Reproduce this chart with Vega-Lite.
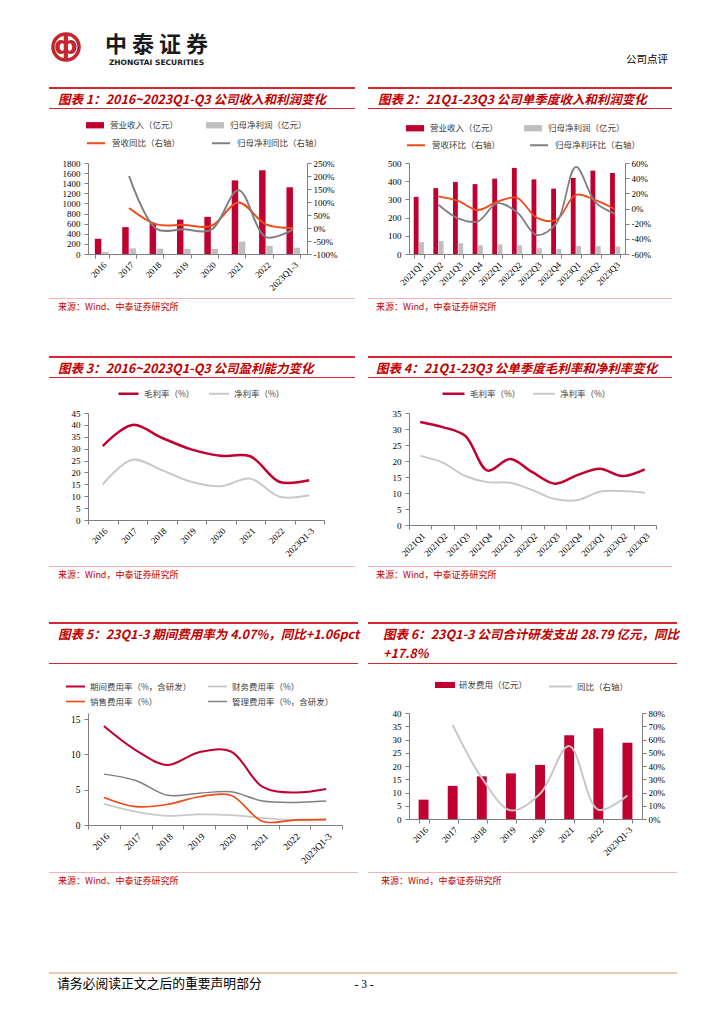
{
"$schema":"https://vega.github.io/schema/vega-lite/v6.json",
"background":"#ffffff","padding":0,"spacing":0,"columns":7,"bounds":"flush",
"resolve":{"scale":{"x":"independent","y":"independent","xOffset":"independent","color":"independent","stroke":"independent","strokeWidth":"independent"},"legend":{"color":"independent","stroke":"independent"},"axis":{"x":"independent","y":"independent"}},
"config":{"view":{"stroke":null},"font":"Noto Sans CJK SC",
"axis":{"labelFont":"Liberation Serif","labelFontSize":9,"labelColor":"#000000","domainColor":"#7F7F7F","tickColor":"#7F7F7F","tickSize":4,"grid":false},
"legend":{"labelFont":"Noto Sans CJK SC","labelFontSize":8.5,"labelColor":"#404040","padding":0},
"title":{"font":"Noto Sans CJK SC"}},
"datasets":{
"e":[],
"c1bar":[{"cat":"2016","s":"营业收入（亿元）","v":301},{"cat":"2016","s":"归母净利润（亿元）","v":37},{"cat":"2017","s":"营业收入（亿元）","v":531},{"cat":"2017","s":"归母净利润（亿元）","v":111},{"cat":"2018","s":"营业收入（亿元）","v":606},{"cat":"2018","s":"归母净利润（亿元）","v":106},{"cat":"2019","s":"营业收入（亿元）","v":681},{"cat":"2019","s":"归母净利润（亿元）","v":101},{"cat":"2020","s":"营业收入（亿元）","v":734},{"cat":"2020","s":"归母净利润（亿元）","v":100},{"cat":"2021","s":"营业收入（亿元）","v":1456},{"cat":"2021","s":"归母净利润（亿元）","v":246},{"cat":"2022","s":"营业收入（亿元）","v":1656},{"cat":"2022","s":"归母净利润（亿元）","v":162},{"cat":"2023Q1-3","s":"营业收入（亿元）","v":1320},{"cat":"2023Q1-3","s":"归母净利润（亿元）","v":125}],
"c1line":[{"cat":"2017","s":"营收同比（右轴）","v":77},{"cat":"2018","s":"营收同比（右轴）","v":14},{"cat":"2019","s":"营收同比（右轴）","v":12},{"cat":"2020","s":"营收同比（右轴）","v":8},{"cat":"2021","s":"营收同比（右轴）","v":98},{"cat":"2022","s":"营收同比（右轴）","v":14},{"cat":"2023Q1-3","s":"营收同比（右轴）","v":0},{"cat":"2017","s":"归母净利同比（右轴）","v":200},{"cat":"2018","s":"归母净利同比（右轴）","v":-3},{"cat":"2019","s":"归母净利同比（右轴）","v":-5},{"cat":"2020","s":"归母净利同比（右轴）","v":-7},{"cat":"2021","s":"归母净利同比（右轴）","v":145},{"cat":"2022","s":"归母净利同比（右轴）","v":-35},{"cat":"2023Q1-3","s":"归母净利同比（右轴）","v":-5}],
"c2bar":[{"cat":"2021Q1","s":"营业收入（亿元）","v":314},{"cat":"2021Q1","s":"归母净利润（亿元）","v":65},{"cat":"2021Q2","s":"营业收入（亿元）","v":362},{"cat":"2021Q2","s":"归母净利润（亿元）","v":72},{"cat":"2021Q3","s":"营业收入（亿元）","v":396},{"cat":"2021Q3","s":"归母净利润（亿元）","v":60},{"cat":"2021Q4","s":"营业收入（亿元）","v":384},{"cat":"2021Q4","s":"归母净利润（亿元）","v":48},{"cat":"2022Q1","s":"营业收入（亿元）","v":414},{"cat":"2022Q1","s":"归母净利润（亿元）","v":53},{"cat":"2022Q2","s":"营业收入（亿元）","v":473},{"cat":"2022Q2","s":"归母净利润（亿元）","v":48},{"cat":"2022Q3","s":"营业收入（亿元）","v":410},{"cat":"2022Q3","s":"归母净利润（亿元）","v":32},{"cat":"2022Q4","s":"营业收入（亿元）","v":359},{"cat":"2022Q4","s":"归母净利润（亿元）","v":28},{"cat":"2023Q1","s":"营业收入（亿元）","v":418},{"cat":"2023Q1","s":"归母净利润（亿元）","v":44},{"cat":"2023Q2","s":"营业收入（亿元）","v":458},{"cat":"2023Q2","s":"归母净利润（亿元）","v":43},{"cat":"2023Q3","s":"营业收入（亿元）","v":445},{"cat":"2023Q3","s":"归母净利润（亿元）","v":41}],
"c2line":[{"cat":"2021Q2","s":"营收环比（右轴）","v":16},{"cat":"2021Q3","s":"营收环比（右轴）","v":10},{"cat":"2021Q4","s":"营收环比（右轴）","v":-2},{"cat":"2022Q1","s":"营收环比（右轴）","v":9},{"cat":"2022Q2","s":"营收环比（右轴）","v":14},{"cat":"2022Q3","s":"营收环比（右轴）","v":-12},{"cat":"2022Q4","s":"营收环比（右轴）","v":-15},{"cat":"2023Q1","s":"营收环比（右轴）","v":18},{"cat":"2023Q2","s":"营收环比（右轴）","v":11},{"cat":"2023Q3","s":"营收环比（右轴）","v":-1},{"cat":"2021Q2","s":"归母净利环比（右轴）","v":5},{"cat":"2021Q3","s":"归母净利环比（右轴）","v":-13},{"cat":"2021Q4","s":"归母净利环比（右轴）","v":-17},{"cat":"2022Q1","s":"归母净利环比（右轴）","v":7},{"cat":"2022Q2","s":"归母净利环比（右轴）","v":-5},{"cat":"2022Q3","s":"归母净利环比（右轴）","v":-35},{"cat":"2022Q4","s":"归母净利环比（右轴）","v":-20},{"cat":"2023Q1","s":"归母净利环比（右轴）","v":55},{"cat":"2023Q2","s":"归母净利环比（右轴）","v":8},{"cat":"2023Q3","s":"归母净利环比（右轴）","v":-7}],
"c3":[{"cat":"2016","s":"毛利率（%）","v":31.1},{"cat":"2017","s":"毛利率（%）","v":40.0},{"cat":"2018","s":"毛利率（%）","v":34.6},{"cat":"2019","s":"毛利率（%）","v":29.7},{"cat":"2020","s":"毛利率（%）","v":27.0},{"cat":"2021","s":"毛利率（%）","v":26.8},{"cat":"2022","s":"毛利率（%）","v":16.0},{"cat":"2023Q1-3","s":"毛利率（%）","v":16.7},{"cat":"2016","s":"净利率（%）","v":15.0},{"cat":"2017","s":"净利率（%）","v":25.3},{"cat":"2018","s":"净利率（%）","v":21.0},{"cat":"2019","s":"净利率（%）","v":16.1},{"cat":"2020","s":"净利率（%）","v":14.2},{"cat":"2021","s":"净利率（%）","v":17.4},{"cat":"2022","s":"净利率（%）","v":9.8},{"cat":"2023Q1-3","s":"净利率（%）","v":10.4}],
"c4":[{"cat":"2021Q1","s":"毛利率（%）","v":32.2},{"cat":"2021Q2","s":"毛利率（%）","v":30.6},{"cat":"2021Q3","s":"毛利率（%）","v":27.9},{"cat":"2021Q4","s":"毛利率（%）","v":17.0},{"cat":"2022Q1","s":"毛利率（%）","v":20.6},{"cat":"2022Q2","s":"毛利率（%）","v":16.5},{"cat":"2022Q3","s":"毛利率（%）","v":12.9},{"cat":"2022Q4","s":"毛利率（%）","v":15.6},{"cat":"2023Q1","s":"毛利率（%）","v":17.6},{"cat":"2023Q2","s":"毛利率（%）","v":15.3},{"cat":"2023Q3","s":"毛利率（%）","v":17.4},{"cat":"2021Q1","s":"净利率（%）","v":21.6},{"cat":"2021Q2","s":"净利率（%）","v":19.5},{"cat":"2021Q3","s":"净利率（%）","v":15.3},{"cat":"2021Q4","s":"净利率（%）","v":13.4},{"cat":"2022Q1","s":"净利率（%）","v":13.2},{"cat":"2022Q2","s":"净利率（%）","v":10.9},{"cat":"2022Q3","s":"净利率（%）","v":8.1},{"cat":"2022Q4","s":"净利率（%）","v":7.8},{"cat":"2023Q1","s":"净利率（%）","v":10.4},{"cat":"2023Q2","s":"净利率（%）","v":10.6},{"cat":"2023Q3","s":"净利率（%）","v":10.1}],
"c5":[{"cat":"2016","s":"期间费用率（%，含研发）","v":14.0},{"cat":"2017","s":"期间费用率（%，含研发）","v":10.6},{"cat":"2018","s":"期间费用率（%，含研发）","v":8.5},{"cat":"2019","s":"期间费用率（%，含研发）","v":10.3},{"cat":"2020","s":"期间费用率（%，含研发）","v":10.4},{"cat":"2021","s":"期间费用率（%，含研发）","v":5.4},{"cat":"2022","s":"期间费用率（%，含研发）","v":4.6},{"cat":"2023Q1-3","s":"期间费用率（%，含研发）","v":5.1},{"cat":"2016","s":"财务费用率（%）","v":3.0},{"cat":"2017","s":"财务费用率（%）","v":1.9},{"cat":"2018","s":"财务费用率（%）","v":1.3},{"cat":"2019","s":"财务费用率（%）","v":1.5},{"cat":"2020","s":"财务费用率（%）","v":1.4},{"cat":"2021","s":"财务费用率（%）","v":1.0},{"cat":"2022","s":"财务费用率（%）","v":0.7},{"cat":"2023Q1-3","s":"财务费用率（%）","v":0.7},{"cat":"2016","s":"销售费用率（%）","v":3.9},{"cat":"2017","s":"销售费用率（%）","v":2.6},{"cat":"2018","s":"销售费用率（%）","v":2.9},{"cat":"2019","s":"销售费用率（%）","v":4.0},{"cat":"2020","s":"销售费用率（%）","v":4.2},{"cat":"2021","s":"销售费用率（%）","v":0.5},{"cat":"2022","s":"销售费用率（%）","v":0.7},{"cat":"2023Q1-3","s":"销售费用率（%）","v":0.8},{"cat":"2016","s":"管理费用率（%，含研发）","v":7.2},{"cat":"2017","s":"管理费用率（%，含研发）","v":6.3},{"cat":"2018","s":"管理费用率（%，含研发）","v":4.2},{"cat":"2019","s":"管理费用率（%，含研发）","v":4.5},{"cat":"2020","s":"管理费用率（%，含研发）","v":4.7},{"cat":"2021","s":"管理费用率（%，含研发）","v":3.4},{"cat":"2022","s":"管理费用率（%，含研发）","v":3.2},{"cat":"2023Q1-3","s":"管理费用率（%，含研发）","v":3.4}],
"c6bar":[{"cat":"2016","s":"研发费用（亿元）","v":7.3},{"cat":"2017","s":"研发费用（亿元）","v":12.5},{"cat":"2018","s":"研发费用（亿元）","v":16.1},{"cat":"2019","s":"研发费用（亿元）","v":17.2},{"cat":"2020","s":"研发费用（亿元）","v":20.4},{"cat":"2021","s":"研发费用（亿元）","v":31.6},{"cat":"2022","s":"研发费用（亿元）","v":34.2},{"cat":"2023Q1-3","s":"研发费用（亿元）","v":28.79}],
"c6line":[{"cat":"2017","s":"同比（右轴）","v":71},{"cat":"2018","s":"同比（右轴）","v":31},{"cat":"2019","s":"同比（右轴）","v":6.5},{"cat":"2020","s":"同比（右轴）","v":19},{"cat":"2021","s":"同比（右轴）","v":55},{"cat":"2022","s":"同比（右轴）","v":7},{"cat":"2023Q1-3","s":"同比（右轴）","v":17.8}]
},
"concat":[
{"width":49,"height":30,"data":{"name":"e"},"mark":"point"},
{"width":1,"height":1,"data":{"name":"e"},"mark":"point"},
{"width":137,"height":30,"data":{"name":"e"},"mark":"point","title":{"text":"中 泰 证 券","subtitle":"ZHONGTAI SECURITIES","orient":"bottom","anchor":"middle","frame":"group","offset":5,"fontSize":22,"fontWeight":"bold","color":"#1A1A1A","subtitleFont":"DejaVu Sans","subtitleFontSize":7.5,"subtitleFontWeight":"bold","subtitleColor":"#1A1A1A","subtitlePadding":2}},
{"width":1,"height":1,"data":{"name":"e"},"mark":"point"},
{"width":1,"height":1,"data":{"name":"e"},"mark":"point"},
{"width":247,"height":30,"data":{"name":"e"},"mark":"point","title":{"text":"公司点评","orient":"bottom","anchor":"end","frame":"group","offset":25,"dx":12,"fontSize":10.5,"fontWeight":"normal","color":"#000000"}},
{"width":1,"height":1,"data":{"name":"e"},"mark":"point"},

{"width":1,"height":1,"data":{"name":"e"},"mark":"point"},
{"width":34,"height":34,"data":{"values":[{"k":"logo"}]},"layer":[
 {"mark":{"type":"point","shape":"circle","size":680,"filled":false,"stroke":"#C1272D","strokeWidth":3.5,"opacity":1}},
 {"mark":{"type":"text","text":"ф","font":"DejaVu Sans","fontSize":24,"fontWeight":"bold","color":"#C1272D","align":"center","baseline":"middle"}}]},
{"width":1,"height":1,"data":{"name":"e"},"mark":"point"},
{"width":1,"height":1,"data":{"name":"e"},"mark":"point"},
{"width":1,"height":1,"data":{"name":"e"},"mark":"point"},
{"width":1,"height":1,"data":{"name":"e"},"mark":"point"},
{"width":1,"height":1,"data":{"name":"e"},"mark":"point"},

{"width":1,"height":23,"data":{"name":"e"},"mark":"point"},
{"width":1,"height":1,"data":{"name":"e"},"mark":"point"},
{"width":1,"height":1,"data":{"name":"e"},"mark":"point"},
{"width":1,"height":1,"data":{"name":"e"},"mark":"point"},
{"width":1,"height":1,"data":{"name":"e"},"mark":"point"},
{"width":1,"height":1,"data":{"name":"e"},"mark":"point"},
{"width":1,"height":1,"data":{"name":"e"},"mark":"point"},

{"width":1,"height":2,"data":{"name":"e"},"mark":"point"},
{"width":39,"height":2,"data":{"name":"e"},"mark":"point","view":{"fill":"#D7262E","stroke":null},"title":{"text":"图表 1：2016~2023Q1-Q3 公司收入和利润变化","orient":"bottom","anchor":"start","frame":"group","offset":5,"dx":9,"fontSize":12.5,"fontWeight":"bold","fontStyle":"italic","color":"#C00000"}},
{"width":254,"height":2,"data":{"name":"e"},"mark":"point","view":{"fill":"#D7262E","stroke":null}},
{"width":13,"height":2,"data":{"name":"e"},"mark":"point","view":{"fill":"#D7262E","stroke":null}},
{"width":41,"height":2,"data":{"name":"e"},"mark":"point","view":{"fill":"#D7262E","stroke":null},"title":{"text":"图表 2：21Q1-23Q3 公司单季度收入和利润变化","orient":"bottom","anchor":"start","frame":"group","offset":5,"dx":10,"fontSize":12.5,"fontWeight":"bold","fontStyle":"italic","color":"#C00000"}},
{"width":247,"height":2,"data":{"name":"e"},"mark":"point","view":{"fill":"#D7262E","stroke":null}},
{"width":16,"height":2,"data":{"name":"e"},"mark":"point","view":{"fill":"#D7262E","stroke":null}},

{"width":1,"height":19,"data":{"name":"e"},"mark":"point"},
{"width":1,"height":1,"data":{"name":"e"},"mark":"point"},
{"width":1,"height":1,"data":{"name":"e"},"mark":"point"},
{"width":1,"height":1,"data":{"name":"e"},"mark":"point"},
{"width":1,"height":1,"data":{"name":"e"},"mark":"point"},
{"width":1,"height":1,"data":{"name":"e"},"mark":"point"},
{"width":1,"height":1,"data":{"name":"e"},"mark":"point"},

{"width":1,"height":1,"data":{"name":"e"},"mark":"point"},
{"width":39,"height":1,"data":{"name":"e"},"mark":"point","view":{"fill":"#D7262E","stroke":null}},
{"width":254,"height":1,"data":{"name":"e"},"mark":"point","view":{"fill":"#D7262E","stroke":null}},
{"width":13,"height":1,"data":{"name":"e"},"mark":"point","view":{"fill":"#D7262E","stroke":null}},
{"width":41,"height":1,"data":{"name":"e"},"mark":"point","view":{"fill":"#D7262E","stroke":null}},
{"width":247,"height":1,"data":{"name":"e"},"mark":"point","view":{"fill":"#D7262E","stroke":null}},
{"width":16,"height":1,"data":{"name":"e"},"mark":"point","view":{"fill":"#D7262E","stroke":null}},

{"width":1,"height":54,"data":{"name":"e"},"mark":"point"},
{"width":1,"height":1,"data":{"name":"e"},"mark":"point"},
{"width":1,"height":1,"data":{"name":"e"},"mark":"point"},
{"width":1,"height":1,"data":{"name":"e"},"mark":"point"},
{"width":1,"height":1,"data":{"name":"e"},"mark":"point"},
{"width":1,"height":1,"data":{"name":"e"},"mark":"point"},
{"width":1,"height":1,"data":{"name":"e"},"mark":"point"},

{"width":1,"height":1,"data":{"name":"e"},"mark":"point"},
{"width":1,"height":1,"data":{"name":"e"},"mark":"point"},
{"width":219,"height":91,
 "encoding":{"x":{"field":"cat","type":"nominal","scale":{"type":"band","paddingInner":0.5,"paddingOuter":0.25},"axis":{"title":null,"labelAngle":-45,"labelAlign":"right","labelBaseline":"top","tickBand":"extent","labelPadding":2}}},
 "layer":[
  {"data":{"name":"c1bar"},"mark":"bar","encoding":{
   "xOffset":{"field":"s","type":"nominal","scale":{"domain":["营业收入（亿元）","归母净利润（亿元）"],"paddingInner":0.1}},
   "y":{"field":"v","type":"quantitative","scale":{"domain":[0,1800],"nice":false},"axis":{"title":null,"orient":"left","format":"d","values":[0,200,400,600,800,1000,1200,1400,1600,1800],"labelPadding":4}},
   "color":{"field":"s","type":"nominal","scale":{"domain":["营业收入（亿元）","归母净利润（亿元）"],"range":["#C00030","#BFBFBF"]},"legend":{"title":null,"orient":"none","legendX":-2,"legendY":-47,"direction":"horizontal","symbolType":"M-1,-0.35H1V0.35H-1Z","symbolSize":324,"symbolStrokeWidth":0,"labelOffset":6,"columnPadding":27}}}},
  {"data":{"name":"c1line"},"mark":{"type":"line","interpolate":"catmull-rom","strokeWidth":2},"encoding":{
   "y":{"field":"v","type":"quantitative","scale":{"domain":[-100,250],"nice":false},"axis":{"title":null,"orient":"right","values":[-100,-50,0,50,100,150,200,250],"labelExpr":"datum.value + '%'","labelPadding":2}},
   "stroke":{"field":"s","type":"nominal","scale":{"domain":["营收同比（右轴）","归母净利同比（右轴）"],"range":["#EE4B1A","#808080"]},"legend":{"title":null,"orient":"none","legendX":-2,"legendY":-30,"direction":"horizontal","symbolType":"stroke","symbolSize":324,"symbolStrokeWidth":2,"labelOffset":6,"columnPadding":27}}}}
 ],
 "resolve":{"scale":{"y":"independent"}}},
{"width":1,"height":1,"data":{"name":"e"},"mark":"point"},
{"width":1,"height":1,"data":{"name":"e"},"mark":"point"},
{"width":216,"height":91,
 "encoding":{"x":{"field":"cat","type":"nominal","scale":{"type":"band","paddingInner":0.48,"paddingOuter":0.24},"axis":{"title":null,"labelAngle":-45,"labelAlign":"right","labelBaseline":"top","tickBand":"extent","labelPadding":2}}},
 "layer":[
  {"data":{"name":"c2bar"},"mark":"bar","encoding":{
   "xOffset":{"field":"s","type":"nominal","scale":{"domain":["营业收入（亿元）","归母净利润（亿元）"],"paddingInner":0.1}},
   "y":{"field":"v","type":"quantitative","scale":{"domain":[0,500],"nice":false},"axis":{"title":null,"orient":"left","values":[0,100,200,300,400,500],"labelPadding":4}},
   "color":{"field":"s","type":"nominal","scale":{"domain":["营业收入（亿元）","归母净利润（亿元）"],"range":["#C00030","#BFBFBF"]},"legend":{"title":null,"orient":"none","legendX":-3,"legendY":-44,"direction":"horizontal","symbolType":"M-1,-0.35H1V0.35H-1Z","symbolSize":324,"symbolStrokeWidth":0,"labelOffset":6,"columnPadding":25}}}},
  {"data":{"name":"c2line"},"mark":{"type":"line","interpolate":"catmull-rom","strokeWidth":1.8},"encoding":{
   "y":{"field":"v","type":"quantitative","scale":{"domain":[-60,60],"nice":false},"axis":{"title":null,"orient":"right","values":[-60,-40,-20,0,20,40,60],"labelExpr":"datum.value + '%'","labelPadding":2}},
   "stroke":{"field":"s","type":"nominal","scale":{"domain":["营收环比（右轴）","归母净利环比（右轴）"],"range":["#EE4B1A","#808080"]},"legend":{"title":null,"orient":"none","legendX":-3,"legendY":-28,"direction":"horizontal","symbolType":"stroke","symbolSize":324,"symbolStrokeWidth":2,"labelOffset":6,"columnPadding":25}}}}
 ],
 "resolve":{"scale":{"y":"independent"}}},
{"width":1,"height":1,"data":{"name":"e"},"mark":"point"},

{"width":1,"height":44,"data":{"name":"e"},"mark":"point"},
{"width":1,"height":1,"data":{"name":"e"},"mark":"point"},
{"width":1,"height":1,"data":{"name":"e"},"mark":"point"},
{"width":1,"height":1,"data":{"name":"e"},"mark":"point"},
{"width":1,"height":1,"data":{"name":"e"},"mark":"point"},
{"width":1,"height":1,"data":{"name":"e"},"mark":"point"},
{"width":1,"height":1,"data":{"name":"e"},"mark":"point"},

{"width":1,"height":1,"data":{"name":"e"},"mark":"point"},
{"width":39,"height":1,"data":{"name":"e"},"mark":"point","view":{"fill":"#F3B3B3","stroke":null},"title":{"text":"来源：Wind、中泰证券研究所","orient":"bottom","anchor":"start","frame":"group","offset":3.5,"dx":9,"fontSize":9,"fontWeight":"normal","color":"#C00000"}},
{"width":254,"height":1,"data":{"name":"e"},"mark":"point","view":{"fill":"#F3B3B3","stroke":null}},
{"width":13,"height":1,"data":{"name":"e"},"mark":"point","view":{"fill":"#F3B3B3","stroke":null}},
{"width":41,"height":1,"data":{"name":"e"},"mark":"point","view":{"fill":"#F3B3B3","stroke":null},"title":{"text":"来源：Wind，中泰证券研究所","orient":"bottom","anchor":"start","frame":"group","offset":3.5,"dx":8,"fontSize":9,"fontWeight":"normal","color":"#C00000"}},
{"width":247,"height":1,"data":{"name":"e"},"mark":"point","view":{"fill":"#F3B3B3","stroke":null}},
{"width":16,"height":1,"data":{"name":"e"},"mark":"point","view":{"fill":"#F3B3B3","stroke":null}},

{"width":1,"height":57,"data":{"name":"e"},"mark":"point"},
{"width":1,"height":1,"data":{"name":"e"},"mark":"point"},
{"width":1,"height":1,"data":{"name":"e"},"mark":"point"},
{"width":1,"height":1,"data":{"name":"e"},"mark":"point"},
{"width":1,"height":1,"data":{"name":"e"},"mark":"point"},
{"width":1,"height":1,"data":{"name":"e"},"mark":"point"},
{"width":1,"height":1,"data":{"name":"e"},"mark":"point"},

{"width":1,"height":2,"data":{"name":"e"},"mark":"point"},
{"width":39,"height":2,"data":{"name":"e"},"mark":"point","view":{"fill":"#D7262E","stroke":null},"title":{"text":"图表 3：2016~2023Q1-Q3 公司盈利能力变化","orient":"bottom","anchor":"start","frame":"group","offset":5,"dx":9,"fontSize":12.5,"fontWeight":"bold","fontStyle":"italic","color":"#C00000"}},
{"width":254,"height":2,"data":{"name":"e"},"mark":"point","view":{"fill":"#D7262E","stroke":null}},
{"width":13,"height":2,"data":{"name":"e"},"mark":"point","view":{"fill":"#D7262E","stroke":null}},
{"width":41,"height":2,"data":{"name":"e"},"mark":"point","view":{"fill":"#D7262E","stroke":null},"title":{"text":"图表 4：21Q1-23Q3 公单季度毛利率和净利率变化","orient":"bottom","anchor":"start","frame":"group","offset":5,"dx":8,"fontSize":12.5,"fontWeight":"bold","fontStyle":"italic","color":"#C00000"}},
{"width":247,"height":2,"data":{"name":"e"},"mark":"point","view":{"fill":"#D7262E","stroke":null}},
{"width":16,"height":2,"data":{"name":"e"},"mark":"point","view":{"fill":"#D7262E","stroke":null}},

{"width":1,"height":19,"data":{"name":"e"},"mark":"point"},
{"width":1,"height":1,"data":{"name":"e"},"mark":"point"},
{"width":1,"height":1,"data":{"name":"e"},"mark":"point"},
{"width":1,"height":1,"data":{"name":"e"},"mark":"point"},
{"width":1,"height":1,"data":{"name":"e"},"mark":"point"},
{"width":1,"height":1,"data":{"name":"e"},"mark":"point"},
{"width":1,"height":1,"data":{"name":"e"},"mark":"point"},

{"width":1,"height":1,"data":{"name":"e"},"mark":"point"},
{"width":39,"height":1,"data":{"name":"e"},"mark":"point","view":{"fill":"#D7262E","stroke":null}},
{"width":254,"height":1,"data":{"name":"e"},"mark":"point","view":{"fill":"#D7262E","stroke":null}},
{"width":13,"height":1,"data":{"name":"e"},"mark":"point","view":{"fill":"#D7262E","stroke":null}},
{"width":41,"height":1,"data":{"name":"e"},"mark":"point","view":{"fill":"#D7262E","stroke":null}},
{"width":247,"height":1,"data":{"name":"e"},"mark":"point","view":{"fill":"#D7262E","stroke":null}},
{"width":16,"height":1,"data":{"name":"e"},"mark":"point","view":{"fill":"#D7262E","stroke":null}},

{"width":1,"height":35,"data":{"name":"e"},"mark":"point"},
{"width":1,"height":1,"data":{"name":"e"},"mark":"point"},
{"width":1,"height":1,"data":{"name":"e"},"mark":"point"},
{"width":1,"height":1,"data":{"name":"e"},"mark":"point"},
{"width":1,"height":1,"data":{"name":"e"},"mark":"point"},
{"width":1,"height":1,"data":{"name":"e"},"mark":"point"},
{"width":1,"height":1,"data":{"name":"e"},"mark":"point"},

{"width":1,"height":1,"data":{"name":"e"},"mark":"point"},
{"width":1,"height":1,"data":{"name":"e"},"mark":"point"},
{"width":236,"height":107,"data":{"name":"c3"},"mark":{"type":"line","interpolate":"catmull-rom"},
 "encoding":{
  "x":{"field":"cat","type":"nominal","scale":{"type":"band","paddingInner":0,"paddingOuter":0},"axis":{"title":null,"labelAngle":-45,"labelAlign":"right","labelBaseline":"top","tickBand":"extent","labelPadding":2}},
  "y":{"field":"v","type":"quantitative","scale":{"domain":[0,45],"nice":false},"axis":{"title":null,"values":[0,5,10,15,20,25,30,35,40,45],"labelPadding":4}},
  "stroke":{"field":"s","type":"nominal","scale":{"domain":["毛利率（%）","净利率（%）"],"range":["#C00030","#C8C8C8"]},"legend":{"title":null,"orient":"none","legendX":29,"legendY":-31,"direction":"horizontal","symbolType":"stroke","symbolSize":400,"symbolStrokeWidth":2.5,"labelOffset":4,"columnPadding":10}},
  "strokeWidth":{"field":"s","type":"nominal","scale":{"domain":["毛利率（%）","净利率（%）"],"range":[2.5,2]},"legend":null}}},
{"width":1,"height":1,"data":{"name":"e"},"mark":"point"},
{"width":1,"height":1,"data":{"name":"e"},"mark":"point"},
{"width":247,"height":112,"data":{"name":"c4"},"mark":{"type":"line","interpolate":"catmull-rom"},
 "encoding":{
  "x":{"field":"cat","type":"nominal","scale":{"type":"band","paddingInner":0,"paddingOuter":0},"axis":{"title":null,"labelAngle":-45,"labelAlign":"right","labelBaseline":"top","tickBand":"extent","labelPadding":2}},
  "y":{"field":"v","type":"quantitative","scale":{"domain":[0,35],"nice":false},"axis":{"title":null,"values":[0,5,10,15,20,25,30,35],"labelPadding":4}},
  "stroke":{"field":"s","type":"nominal","scale":{"domain":["毛利率（%）","净利率（%）"],"range":["#C00030","#C8C8C8"]},"legend":{"title":null,"orient":"none","legendX":32,"legendY":-32,"direction":"horizontal","symbolType":"stroke","symbolSize":484,"symbolStrokeWidth":2.5,"labelOffset":4,"columnPadding":8}},
  "strokeWidth":{"field":"s","type":"nominal","scale":{"domain":["毛利率（%）","净利率（%）"],"range":[2.5,2]},"legend":null}}},
{"width":1,"height":1,"data":{"name":"e"},"mark":"point"},

{"width":1,"height":41,"data":{"name":"e"},"mark":"point"},
{"width":1,"height":1,"data":{"name":"e"},"mark":"point"},
{"width":1,"height":1,"data":{"name":"e"},"mark":"point"},
{"width":1,"height":1,"data":{"name":"e"},"mark":"point"},
{"width":1,"height":1,"data":{"name":"e"},"mark":"point"},
{"width":1,"height":1,"data":{"name":"e"},"mark":"point"},
{"width":1,"height":1,"data":{"name":"e"},"mark":"point"},

{"width":1,"height":1,"data":{"name":"e"},"mark":"point"},
{"width":39,"height":1,"data":{"name":"e"},"mark":"point","view":{"fill":"#F3B3B3","stroke":null},"title":{"text":"来源：Wind，中泰证券研究所","orient":"bottom","anchor":"start","frame":"group","offset":3.5,"dx":9,"fontSize":9,"fontWeight":"normal","color":"#C00000"}},
{"width":254,"height":1,"data":{"name":"e"},"mark":"point","view":{"fill":"#F3B3B3","stroke":null}},
{"width":13,"height":1,"data":{"name":"e"},"mark":"point","view":{"fill":"#F3B3B3","stroke":null}},
{"width":41,"height":1,"data":{"name":"e"},"mark":"point","view":{"fill":"#F3B3B3","stroke":null},"title":{"text":"来源：Wind，中泰证券研究所","orient":"bottom","anchor":"start","frame":"group","offset":3.5,"dx":8,"fontSize":9,"fontWeight":"normal","color":"#C00000"}},
{"width":247,"height":1,"data":{"name":"e"},"mark":"point","view":{"fill":"#F3B3B3","stroke":null}},
{"width":16,"height":1,"data":{"name":"e"},"mark":"point","view":{"fill":"#F3B3B3","stroke":null}},

{"width":1,"height":55,"data":{"name":"e"},"mark":"point"},
{"width":1,"height":1,"data":{"name":"e"},"mark":"point"},
{"width":1,"height":1,"data":{"name":"e"},"mark":"point"},
{"width":1,"height":1,"data":{"name":"e"},"mark":"point"},
{"width":1,"height":1,"data":{"name":"e"},"mark":"point"},
{"width":1,"height":1,"data":{"name":"e"},"mark":"point"},
{"width":1,"height":1,"data":{"name":"e"},"mark":"point"},

{"width":1,"height":2,"data":{"name":"e"},"mark":"point"},
{"width":39,"height":2,"data":{"name":"e"},"mark":"point","view":{"fill":"#D7262E","stroke":null},"title":{"text":"图表 5：23Q1-3 期间费用率为 4.07%，同比+1.06pct","orient":"bottom","anchor":"start","frame":"group","offset":5,"dx":9,"fontSize":12.5,"fontWeight":"bold","fontStyle":"italic","color":"#C00000"}},
{"width":254,"height":2,"data":{"name":"e"},"mark":"point","view":{"fill":"#D7262E","stroke":null}},
{"width":16,"height":2,"data":{"name":"e"},"mark":"point","view":{"fill":"#D7262E","stroke":null}},
{"width":41,"height":2,"data":{"name":"e"},"mark":"point","view":{"fill":"#D7262E","stroke":null},"title":{"text":["图表 6：23Q1-3 公司合计研发支出 28.79 亿元，同比","+17.8%"],"lineHeight":19,"orient":"bottom","anchor":"start","frame":"group","offset":5,"dx":15,"fontSize":12.5,"fontWeight":"bold","fontStyle":"italic","color":"#C00000"}},
{"width":247,"height":2,"data":{"name":"e"},"mark":"point","view":{"fill":"#D7262E","stroke":null}},
{"width":21,"height":2,"data":{"name":"e"},"mark":"point","view":{"fill":"#D7262E","stroke":null}},

{"width":1,"height":39,"data":{"name":"e"},"mark":"point"},
{"width":1,"height":1,"data":{"name":"e"},"mark":"point"},
{"width":1,"height":1,"data":{"name":"e"},"mark":"point"},
{"width":1,"height":1,"data":{"name":"e"},"mark":"point"},
{"width":1,"height":1,"data":{"name":"e"},"mark":"point"},
{"width":1,"height":1,"data":{"name":"e"},"mark":"point"},
{"width":1,"height":1,"data":{"name":"e"},"mark":"point"},

{"width":1,"height":1,"data":{"name":"e"},"mark":"point"},
{"width":39,"height":1,"data":{"name":"e"},"mark":"point","view":{"fill":"#D7262E","stroke":null}},
{"width":254,"height":1,"data":{"name":"e"},"mark":"point","view":{"fill":"#D7262E","stroke":null}},
{"width":16,"height":1,"data":{"name":"e"},"mark":"point","view":{"fill":"#D7262E","stroke":null}},
{"width":41,"height":1,"data":{"name":"e"},"mark":"point","view":{"fill":"#D7262E","stroke":null}},
{"width":247,"height":1,"data":{"name":"e"},"mark":"point","view":{"fill":"#D7262E","stroke":null}},
{"width":21,"height":1,"data":{"name":"e"},"mark":"point","view":{"fill":"#D7262E","stroke":null}},

{"width":1,"height":49,"data":{"name":"e"},"mark":"point"},
{"width":1,"height":1,"data":{"name":"e"},"mark":"point"},
{"width":1,"height":1,"data":{"name":"e"},"mark":"point"},
{"width":1,"height":1,"data":{"name":"e"},"mark":"point"},
{"width":1,"height":1,"data":{"name":"e"},"mark":"point"},
{"width":1,"height":1,"data":{"name":"e"},"mark":"point"},
{"width":1,"height":1,"data":{"name":"e"},"mark":"point"},

{"width":1,"height":1,"data":{"name":"e"},"mark":"point"},
{"width":1,"height":1,"data":{"name":"e"},"mark":"point"},
{"width":254,"height":112,"data":{"name":"c5"},"mark":{"type":"line","interpolate":"catmull-rom"},
 "encoding":{
  "x":{"field":"cat","type":"nominal","scale":{"type":"band","paddingInner":0,"paddingOuter":0},"axis":{"title":null,"labelAngle":-45,"labelAlign":"right","labelBaseline":"top","tickBand":"extent","labelPadding":2,"labelFontSize":9.5}},
  "y":{"field":"v","type":"quantitative","scale":{"domain":[0,15.85],"nice":false},"axis":{"title":null,"values":[0,5,10,15],"labelPadding":4,"labelFontSize":9.5}},
  "stroke":{"field":"s","type":"nominal","scale":{"domain":["期间费用率（%，含研发）","财务费用率（%）","销售费用率（%）","管理费用率（%，含研发）"],"range":["#C00030","#C8C8C8","#EE4B1A","#808080"]},"legend":{"title":null,"orient":"none","legendX":-23,"legendY":-37,"columns":2,"direction":"horizontal","symbolType":"stroke","symbolSize":361,"symbolStrokeWidth":2,"labelOffset":4,"columnPadding":12,"rowPadding":0}},
  "strokeWidth":{"field":"s","type":"nominal","scale":{"domain":["期间费用率（%，含研发）","财务费用率（%）","销售费用率（%）","管理费用率（%，含研发）"],"range":[2,1.5,2,2.5]},"legend":null}}},
{"width":1,"height":1,"data":{"name":"e"},"mark":"point"},
{"width":1,"height":1,"data":{"name":"e"},"mark":"point"},
{"width":233,"height":106,
 "encoding":{"x":{"field":"cat","type":"nominal","scale":{"type":"band","paddingInner":0.66,"paddingOuter":0.33},"axis":{"title":null,"labelAngle":-45,"labelAlign":"right","labelBaseline":"top","tickBand":"extent","labelPadding":2}}},
 "layer":[
  {"data":{"name":"c6bar"},"mark":"bar","encoding":{
   "y":{"field":"v","type":"quantitative","scale":{"domain":[0,40],"nice":false},"axis":{"title":null,"orient":"left","values":[0,5,10,15,20,25,30,35,40],"labelPadding":4}},
   "color":{"field":"s","type":"nominal","scale":{"domain":["研发费用（亿元）"],"range":["#C00030"]},"legend":{"title":null,"orient":"none","legendX":26,"legendY":-38,"direction":"horizontal","symbolType":"M-1,-0.3H1V0.3H-1Z","symbolSize":400,"symbolStrokeWidth":0,"labelOffset":4}}}},
  {"data":{"name":"c6line"},"mark":{"type":"line","interpolate":"catmull-rom","strokeWidth":2},"encoding":{
   "y":{"field":"v","type":"quantitative","scale":{"domain":[0,80],"nice":false},"axis":{"title":null,"orient":"right","values":[0,10,20,30,40,50,60,70,80],"labelExpr":"datum.value + '%'","labelPadding":2}},
   "stroke":{"field":"s","type":"nominal","scale":{"domain":["同比（右轴）"],"range":["#C8C8C8"]},"legend":{"title":null,"orient":"none","legendX":139,"legendY":-39,"direction":"horizontal","symbolType":"stroke","symbolSize":529,"symbolStrokeWidth":2,"labelOffset":4}}}}
 ],
 "resolve":{"scale":{"y":"independent"}}},
{"width":1,"height":1,"data":{"name":"e"},"mark":"point"},

{"width":1,"height":47,"data":{"name":"e"},"mark":"point"},
{"width":1,"height":1,"data":{"name":"e"},"mark":"point"},
{"width":1,"height":1,"data":{"name":"e"},"mark":"point"},
{"width":1,"height":1,"data":{"name":"e"},"mark":"point"},
{"width":1,"height":1,"data":{"name":"e"},"mark":"point"},
{"width":1,"height":1,"data":{"name":"e"},"mark":"point"},
{"width":1,"height":1,"data":{"name":"e"},"mark":"point"},

{"width":1,"height":1,"data":{"name":"e"},"mark":"point"},
{"width":39,"height":1,"data":{"name":"e"},"mark":"point","view":{"fill":"#F3B3B3","stroke":null},"title":{"text":"来源：Wind、中泰证券研究所","orient":"bottom","anchor":"start","frame":"group","offset":3.5,"dx":9,"fontSize":9,"fontWeight":"normal","color":"#C00000"}},
{"width":254,"height":1,"data":{"name":"e"},"mark":"point","view":{"fill":"#F3B3B3","stroke":null}},
{"width":16,"height":1,"data":{"name":"e"},"mark":"point","view":{"fill":"#F3B3B3","stroke":null}},
{"width":41,"height":1,"data":{"name":"e"},"mark":"point","view":{"fill":"#F3B3B3","stroke":null},"title":{"text":"来源：Wind，中泰证券研究所","orient":"bottom","anchor":"start","frame":"group","offset":3.5,"dx":13,"fontSize":9,"fontWeight":"normal","color":"#C00000"}},
{"width":247,"height":1,"data":{"name":"e"},"mark":"point","view":{"fill":"#F3B3B3","stroke":null}},
{"width":21,"height":1,"data":{"name":"e"},"mark":"point","view":{"fill":"#F3B3B3","stroke":null}},

{"width":1,"height":99,"data":{"name":"e"},"mark":"point"},
{"width":1,"height":1,"data":{"name":"e"},"mark":"point"},
{"width":1,"height":1,"data":{"name":"e"},"mark":"point"},
{"width":26,"height":1,"data":{"name":"e"},"mark":"point"},
{"width":1,"height":1,"data":{"name":"e"},"mark":"point"},
{"width":1,"height":1,"data":{"name":"e"},"mark":"point"},
{"width":1,"height":1,"data":{"name":"e"},"mark":"point"},

{"width":1,"height":2,"data":{"name":"e"},"mark":"point"},
{"width":39,"height":2,"data":{"name":"e"},"mark":"point","view":{"fill":"#EAC7AE","stroke":null},"title":{"text":"请务必阅读正文之后的重要声明部分","orient":"bottom","anchor":"start","frame":"group","offset":4,"dx":8,"fontSize":12.8,"fontWeight":"normal","color":"#000000"}},
{"width":254,"height":2,"data":{"name":"e"},"mark":"point","view":{"fill":"#EAC7AE","stroke":null}},
{"width":26,"height":2,"data":{"name":"e"},"mark":"point","view":{"fill":"#EAC7AE","stroke":null},"title":{"text":"- 3 -","orient":"bottom","anchor":"middle","frame":"group","offset":5,"dx":9,"font":"Liberation Serif","fontSize":11.5,"fontWeight":"normal","color":"#000000"}},
{"width":41,"height":2,"data":{"name":"e"},"mark":"point","view":{"fill":"#EAC7AE","stroke":null}},
{"width":247,"height":2,"data":{"name":"e"},"mark":"point","view":{"fill":"#EAC7AE","stroke":null}},
{"width":21,"height":2,"data":{"name":"e"},"mark":"point","view":{"fill":"#EAC7AE","stroke":null}},

{"width":1,"height":50,"data":{"name":"e"},"mark":"point"},
{"width":1,"height":1,"data":{"name":"e"},"mark":"point"},
{"width":1,"height":1,"data":{"name":"e"},"mark":"point"},
{"width":1,"height":1,"data":{"name":"e"},"mark":"point"},
{"width":1,"height":1,"data":{"name":"e"},"mark":"point"},
{"width":1,"height":1,"data":{"name":"e"},"mark":"point"},
{"width":1,"height":1,"data":{"name":"e"},"mark":"point"}
]
}
